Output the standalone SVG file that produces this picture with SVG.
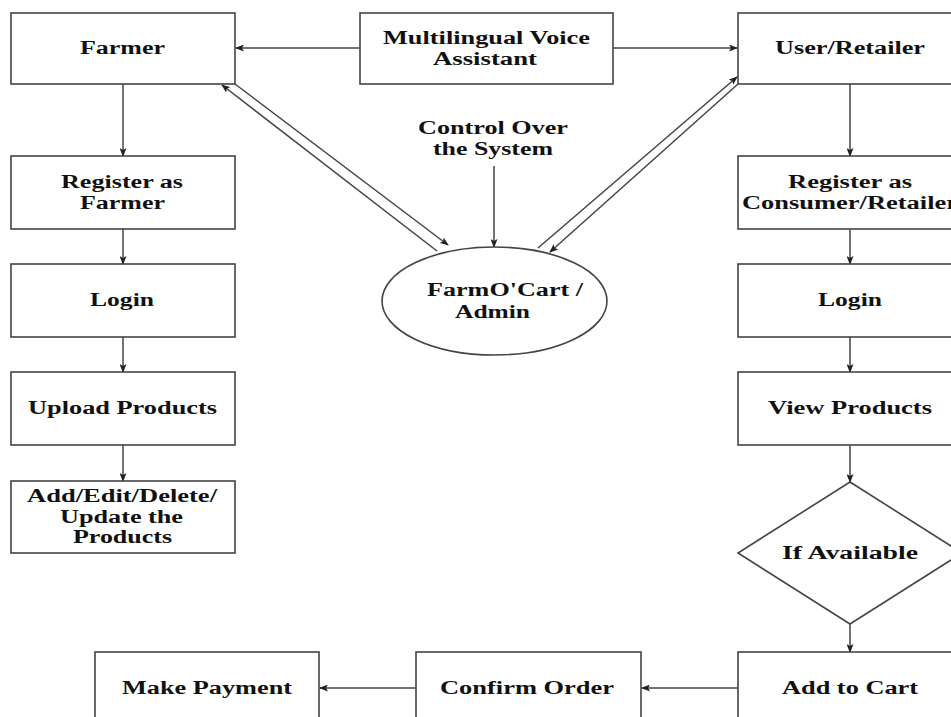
<svg xmlns="http://www.w3.org/2000/svg" width="951" height="717" viewBox="0 0 951 717">
<defs>
<marker id="ah" markerWidth="9" markerHeight="7" refX="8" refY="3.5" orient="auto" markerUnits="userSpaceOnUse">
<path d="M0,0 L9,3.5 L0,7 L2,3.5 Z" fill="#222"/>
</marker>
</defs>
<style>
.box{fill:#fff;stroke:#444;stroke-width:1.6}
.t{font-family:"Liberation Serif","Times New Roman",serif;font-weight:bold;font-size:18px;fill:#111}
.c{fill:none;stroke:#444;stroke-width:1.5;marker-end:url(#ah)}
</style>
<rect width="951" height="717" fill="#fff"/>
<g id="connectors">
<line class="c" x1="360" y1="48" x2="236" y2="48"/>
<line class="c" x1="613" y1="48" x2="737" y2="48"/>
<line class="c" x1="123" y1="84" x2="123" y2="156"/>
<line class="c" x1="123" y1="229" x2="123" y2="264"/>
<line class="c" x1="123" y1="337" x2="123" y2="372"/>
<line class="c" x1="123" y1="445" x2="123" y2="481"/>
<line class="c" x1="850" y1="84" x2="850" y2="156"/>
<line class="c" x1="850" y1="229" x2="850" y2="264"/>
<line class="c" x1="850" y1="337" x2="850" y2="372"/>
<line class="c" x1="850" y1="445" x2="850" y2="482"/>
<line class="c" x1="850" y1="624" x2="850" y2="652"/>
<line class="c" x1="494" y1="166" x2="494" y2="247"/>
<line class="c" x1="738" y1="688" x2="642" y2="688"/>
<line class="c" x1="416" y1="688" x2="320" y2="688"/>
<line class="c" x1="437" y1="251" x2="222" y2="85"/>
<line class="c" x1="235" y1="84" x2="448" y2="245"/>
<line class="c" x1="538" y1="248" x2="737" y2="77"/>
<line class="c" x1="738" y1="84" x2="550" y2="252"/>
</g>
<g id="farmer"><rect class="box" x="11" y="13" width="224" height="71"/><text class="t" x="80" y="54" textLength="85" lengthAdjust="spacingAndGlyphs">Farmer</text></g>
<g id="voice"><rect class="box" x="360" y="13" width="253" height="71"/><text class="t" x="383" y="44" textLength="207" lengthAdjust="spacingAndGlyphs">Multilingual Voice</text><text class="t" x="433" y="65" textLength="104" lengthAdjust="spacingAndGlyphs">Assistant</text></g>
<g id="user"><rect class="box" x="738" y="13" width="224" height="71"/><text class="t" x="775" y="54" textLength="150" lengthAdjust="spacingAndGlyphs">User/Retailer</text></g>
<g id="control"><text class="t" x="418" y="134" textLength="150" lengthAdjust="spacingAndGlyphs">Control Over</text><text class="t" x="433" y="155" textLength="120" lengthAdjust="spacingAndGlyphs">the System</text></g>
<g id="admin"><ellipse class="box" cx="494.5" cy="301" rx="112.5" ry="54"/><text class="t" x="427" y="296" textLength="156" lengthAdjust="spacingAndGlyphs">FarmO'Cart /</text><text class="t" x="455" y="318" textLength="75" lengthAdjust="spacingAndGlyphs">Admin</text></g>
<g id="regFarmer"><rect class="box" x="11" y="156" width="224" height="73"/><text class="t" x="61" y="188" textLength="122" lengthAdjust="spacingAndGlyphs">Register as</text><text class="t" x="80" y="209" textLength="85" lengthAdjust="spacingAndGlyphs">Farmer</text></g>
<g id="loginL"><rect class="box" x="11" y="264" width="224" height="73"/><text class="t" x="90" y="306" textLength="64" lengthAdjust="spacingAndGlyphs">Login</text></g>
<g id="upload"><rect class="box" x="11" y="372" width="224" height="73"/><text class="t" x="28" y="414" textLength="189" lengthAdjust="spacingAndGlyphs">Upload Products</text></g>
<g id="edit"><rect class="box" x="11" y="481" width="224" height="72"/><text class="t" x="27" y="502" textLength="190" lengthAdjust="spacingAndGlyphs">Add/Edit/Delete/</text><text class="t" x="60" y="523" textLength="123" lengthAdjust="spacingAndGlyphs">Update the</text><text class="t" x="73" y="543" textLength="99" lengthAdjust="spacingAndGlyphs">Products</text></g>
<g id="regUser"><rect class="box" x="738" y="156" width="224" height="73"/><text class="t" x="788" y="188" textLength="124" lengthAdjust="spacingAndGlyphs">Register as</text><text class="t" x="742" y="209" textLength="216" lengthAdjust="spacingAndGlyphs">Consumer/Retailer</text></g>
<g id="loginR"><rect class="box" x="738" y="264" width="224" height="73"/><text class="t" x="818" y="306" textLength="64" lengthAdjust="spacingAndGlyphs">Login</text></g>
<g id="view"><rect class="box" x="738" y="372" width="224" height="73"/><text class="t" x="768" y="414" textLength="164" lengthAdjust="spacingAndGlyphs">View Products</text></g>
<g id="avail"><polygon class="box" points="850,482 962,553 850,624 738,553"/><text class="t" x="782" y="559" textLength="136" lengthAdjust="spacingAndGlyphs">If Available</text></g>
<g id="cart"><rect class="box" x="738" y="652" width="224" height="73"/><text class="t" x="782" y="694" textLength="136" lengthAdjust="spacingAndGlyphs">Add to Cart</text></g>
<g id="confirm"><rect class="box" x="416" y="652" width="225" height="73"/><text class="t" x="440" y="694" textLength="174" lengthAdjust="spacingAndGlyphs">Confirm Order</text></g>
<g id="payment"><rect class="box" x="95" y="652" width="224" height="73"/><text class="t" x="122" y="694" textLength="170" lengthAdjust="spacingAndGlyphs">Make Payment</text></g>
</svg>
